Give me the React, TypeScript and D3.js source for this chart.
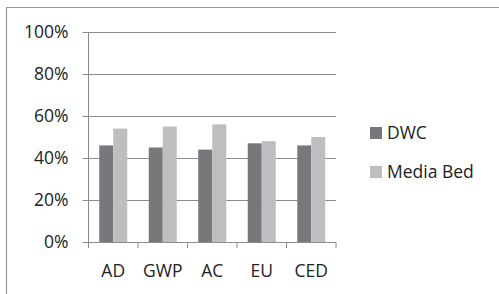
import React from "react";
import * as d3 from "d3";

const categories = ["AD", "GWP", "AC", "EU", "CED"];
const seriesNames = ["DWC", "Media Bed"];
const dwcValues = [0.46, 0.45, 0.44, 0.47, 0.46];
const mediaBedValues = [0.54, 0.55, 0.56, 0.48, 0.50];
const yTicks = [0, 0.2, 0.4, 0.6, 0.8, 1.0];
const colors = ["#77787b", "#bdbec0"];

export default function App() {
  const W = 499, H = 294;
  const x0 = 88.5, x1 = 336, yTop = 32, yBot = 242;
  const x = d3.scaleBand<string>().domain(categories).range([x0, x1]).paddingInner(0).paddingOuter(0);
  const y = d3.scaleLinear().domain([0, 1]).range([yBot, yTop]);
  const bw = 14;
  const inner = d3.scaleBand<string>().domain(seriesNames).range([0, bw * 2]);
  const series = [dwcValues, mediaBedValues];
  const font = "'Open Sans', 'Liberation Sans', sans-serif";
  const fs = 17.5;
  return (
    <svg width={W} height={H} style={{ position: "absolute", left: 0, top: 0, background: "#fff" }}
      fontFamily={font}>
      <rect x={0} y={0} width={W} height={H} fill="#fff" />
      <line x1={6} x2={W} y1={7.5} y2={7.5} stroke="#999" strokeWidth={1.2} />
      <line x1={6.5} x2={6.5} y1={7} y2={H} stroke="#999" strokeWidth={1.2} />
      {yTicks.map((t) => (
        <g key={t}>
          <line x1={x0 - 6} x2={x1} y1={Math.round(y(t)) + 0.5} y2={Math.round(y(t)) + 0.5} stroke="#8c8c8c" strokeWidth={1} />
          <text x={68.5} y={y(t)} dy="0.35em" textAnchor="end" fontSize={fs} fill="#222">{d3.format(".0%")(t)}</text>
        </g>
      ))}
      <line x1={x0} x2={x0} y1={yTop} y2={yBot + 6} stroke="#8c8c8c" />
      {categories.map((c) => (
        <line key={"t" + c} x1={(x(c) as number) + x.bandwidth()} x2={(x(c) as number) + x.bandwidth()} y1={yBot} y2={yBot + 6} stroke="#8c8c8c" />
      ))}
      {categories.map((c, i) => {
        const cx = (x(c) as number) + x.bandwidth() / 2;
        return (
          <g key={c}>
            {series.map((vals, s) => (
              <rect key={s} x={cx - bw + (inner(seriesNames[s]) as number)} y={y(vals[i])} width={bw}
                height={yBot - y(vals[i])} fill={colors[s]} />
            ))}
            <text x={cx} y={271} dy="0.35em" textAnchor="middle" fontSize={fs} fill="#222">{c}</text>
          </g>
        );
      })}
      {seriesNames.map((n, s) => (
        <g key={n} transform={`translate(370, ${133 + s * 39})`}>
          <rect x={0} y={-6} width={12} height={12} fill={colors[s]} />
          <text x={17} y={0} dy="0.35em" fontSize={fs} fill="#222">{n}</text>
        </g>
      ))}
    </svg>
  );
}
